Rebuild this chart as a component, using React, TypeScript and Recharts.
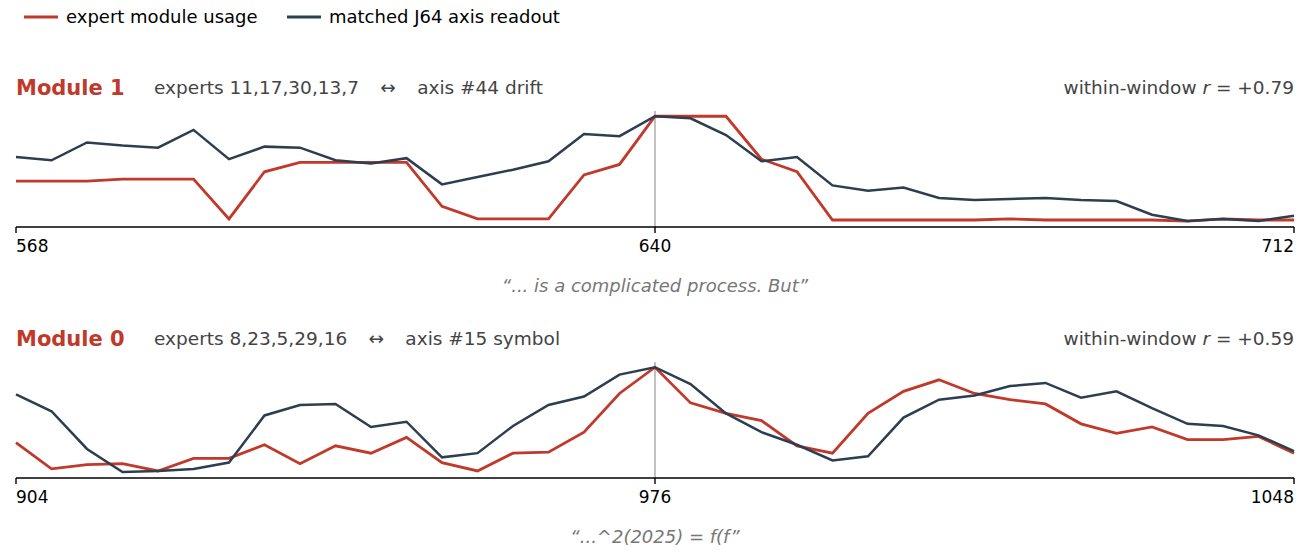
import React from 'react';
import { LineChart, Line, XAxis, YAxis, ReferenceLine } from 'recharts';

// token positions shown in each window
const module1Positions = [568, 572, 576, 580, 584, 588, 592, 596, 600, 604, 608, 612, 616, 620, 624, 628, 632, 636, 640, 644, 648, 652, 656, 660, 664, 668, 672, 676, 680, 684, 688, 692, 696, 700, 704, 708, 712];
const module0Positions = [904, 908, 912, 916, 920, 924, 928, 932, 936, 940, 944, 948, 952, 956, 960, 964, 968, 972, 976, 980, 984, 988, 992, 996, 1000, 1004, 1008, 1012, 1016, 1020, 1024, 1028, 1032, 1036, 1040, 1044, 1048];

// normalised traces (0..1 within window)
const module1Usage = [0.38, 0.38, 0.38, 0.40, 0.40, 0.40, 0.02, 0.47, 0.56, 0.56, 0.56, 0.56, 0.14, 0.02, 0.02, 0.02, 0.44, 0.54, 1.0, 1.0, 1.0, 0.59, 0.47, 0.01, 0.01, 0.01, 0.01, 0.01, 0.02, 0.01, 0.01, 0.01, 0.01, 0.0, 0.02, 0.01, 0.01];
const module1Axis = [0.61, 0.58, 0.75, 0.72, 0.70, 0.87, 0.59, 0.71, 0.70, 0.58, 0.55, 0.60, 0.35, 0.42, 0.49, 0.57, 0.83, 0.81, 1.0, 0.98, 0.82, 0.57, 0.61, 0.34, 0.29, 0.32, 0.22, 0.20, 0.21, 0.22, 0.20, 0.19, 0.06, 0.0, 0.02, 0.0, 0.05];
const module0Usage = [0.28, 0.03, 0.07, 0.08, 0.01, 0.13, 0.13, 0.26, 0.08, 0.25, 0.18, 0.33, 0.09, 0.01, 0.18, 0.19, 0.38, 0.75, 1.0, 0.66, 0.56, 0.49, 0.25, 0.18, 0.56, 0.77, 0.88, 0.75, 0.69, 0.65, 0.46, 0.37, 0.43, 0.31, 0.31, 0.34, 0.18];
const module0Axis = [0.74, 0.58, 0.22, 0.0, 0.01, 0.03, 0.09, 0.54, 0.64, 0.65, 0.43, 0.48, 0.14, 0.18, 0.44, 0.64, 0.72, 0.93, 1.0, 0.84, 0.56, 0.38, 0.26, 0.11, 0.15, 0.52, 0.69, 0.73, 0.82, 0.85, 0.71, 0.77, 0.61, 0.46, 0.44, 0.35, 0.20];

const module1Ticks = [568, 640, 712];
const module0Ticks = [904, 976, 1048];

const RED = '#c0392b';
const NAVY = '#2c3e50';
const FONT = '"DejaVu Sans", sans-serif';

function buildRows(positions, usage, axis) {
  return positions.map((pos, i) => ({ pos, usage: usage[i], axis: axis[i] }));
}

function Panel({ top, positions, usage, axis, ticks }) {
  const data = buildRows(positions, usage, axis);
  const renderTick = (props) => {
    const { x, y, payload, index } = props;
    const anchor = index === 0 ? 'start' : index === ticks.length - 1 ? 'end' : 'middle';
    return (
      <text x={x} y={y} dy="0.71em" textAnchor={anchor} fontSize={17} fontFamily={FONT} fill="#000">
        {payload.value}
      </text>
    );
  };
  return (
    <div style={{ position: 'absolute', left: 0, top }}>
      <LineChart width={1310} height={166} data={data} margin={{ top: 10, right: 16, left: 16, bottom: 0 }}>
        <XAxis
          dataKey="pos"
          type="number"
          domain={[positions[0], positions[positions.length - 1]]}
          ticks={ticks}
          interval={0}
          height={40}
          padding={{ left: 0, right: 0 }}
          axisLine={{ stroke: '#000', strokeWidth: 1.6 }}
          tickLine={{ stroke: '#000', strokeWidth: 1.4 }}
          tickSize={6}
          tickMargin={7}
          tick={renderTick}
        />
        <YAxis hide width={0} domain={[-0.057, 1.05]} allowDataOverflow />
        <ReferenceLine x={ticks[1]} stroke="#999" strokeWidth={1.2} />
        <Line type="linear" dataKey="usage" stroke={RED} strokeWidth={2.8} dot={false} isAnimationActive={false} />
        <Line type="linear" dataKey="axis" stroke={NAVY} strokeWidth={2.5} dot={false} isAnimationActive={false} />
      </LineChart>
    </div>
  );
}

function Header({ baseline, title, subtitle, r, caption, captionBaseline }) {
  return (
    <g fontFamily={FONT}>
      <text x={16} y={baseline} fontSize={21} fontWeight="bold" fill={RED}>{title}</text>
      <text x={154} y={baseline - 1} fontSize={18.5} fill="#444">{subtitle}</text>
      <text x={1294} y={baseline - 1} fontSize={18.5} fill="#444" textAnchor="end">
        within-window <tspan fontStyle="italic">r</tspan> = {r}
      </text>
      <text x={655} y={captionBaseline} fontSize={18} fill="#777" fontStyle="italic" textAnchor="middle">{caption}</text>
    </g>
  );
}

export default function App() {
  const sp = '\u00a0\u00a0\u00a0\u2009';
  return (
    <div style={{ position: 'fixed', left: 0, top: 0, width: 1310, height: 550, background: '#fff', overflow: 'hidden' }}>
      <Panel top={101} positions={module1Positions} usage={module1Usage} axis={module1Axis} ticks={module1Ticks} />
      <Panel top={352} positions={module0Positions} usage={module0Usage} axis={module0Axis} ticks={module0Ticks} />
      <svg width={1310} height={550} style={{ position: 'absolute', left: 0, top: 0, pointerEvents: 'none' }}>
        <g fontFamily={FONT} fontSize={18}>
          <line x1={24} x2={58} y1={17} y2={17} stroke={RED} strokeWidth={2.8} />
          <text x={66} y={23} fill="#000">expert module usage</text>
          <line x1={287} x2={321} y1={17} y2={17} stroke={NAVY} strokeWidth={2.8} />
          <text x={329} y={23} fill="#000">matched J64 axis readout</text>
        </g>
        <Header
          baseline={95}
          title="Module 1"
          subtitle={`experts 11,17,30,13,7${sp}↔${sp}axis #44 drift`}
          r="+0.79"
          caption="“... is a complicated process. But”"
          captionBaseline={292}
        />
        <Header
          baseline={346}
          title="Module 0"
          subtitle={`experts 8,23,5,29,16${sp}↔${sp}axis #15 symbol`}
          r="+0.59"
          caption="“...^2(2025) = f(f”"
          captionBaseline={543}
        />
      </svg>
    </div>
  );
}
